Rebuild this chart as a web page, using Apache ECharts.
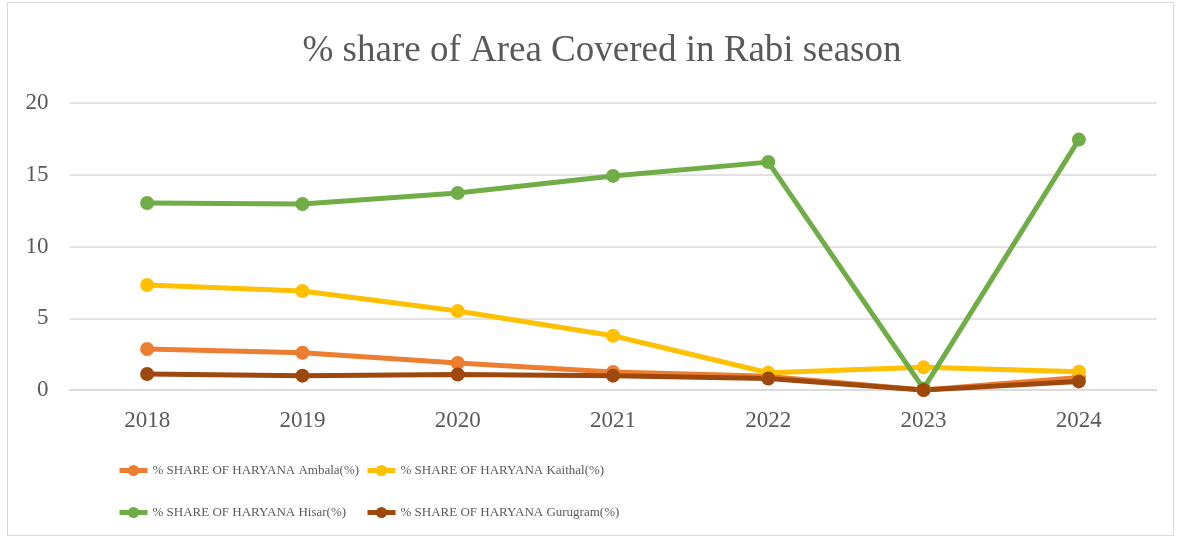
<!DOCTYPE html>
<html>
<head>
<meta charset="utf-8">
<script src="https://cdn.jsdelivr.net/npm/echarts@6/dist/echarts.min.js"></script>
<style>
html, body { margin: 0; padding: 0; background: #fff; }
#main { width: 1180px; height: 540px; }
.frame { position: absolute; left: 7px; top: 2px; width: 1165px; height: 532px; border: 1px solid #d9d9d9; pointer-events: none; }
</style>
</head>
<body>
<div id="main"></div>
<div class="frame"></div>
<script>
var years = ['2018', '2019', '2020', '2021', '2022', '2023', '2024'];
var ambala = [2.86, 2.6, 1.88, 1.25, 0.95, 0, 0.88];
var kaithal = [7.32, 6.9, 5.5, 3.78, 1.2, 1.58, 1.28];
var hisar = [13.03, 12.96, 13.73, 14.92, 15.88, 0.1, 17.45];
var gurugram = [1.12, 1.0, 1.08, 1.0, 0.8, 0, 0.6];

var names = ['% SHARE OF HARYANA Ambala(%)', '% SHARE OF HARYANA Kaithal(%)',
	'% SHARE OF HARYANA Hisar(%)', '% SHARE OF HARYANA Gurugram(%)'];
var colors = ['#ED7D31', '#FFC000', '#70AD47', '#9E480E'];
var values = [ambala, kaithal, hisar, gurugram];

var font = '"Liberation Serif", "Times New Roman", serif';

// one legend per item so the two columns line up like the original
function makeLegend(i, left, top) {
	return {
		data: [names[i]],
		left: left,
		top: top,
		itemWidth: 28,
		itemHeight: 14,
		itemGap: 0,
		lineStyle: { width: 5 },
		textStyle: { fontFamily: font, fontSize: 13, color: '#595959' }
	};
}

var series = [];
for (var i = 0; i < 4; i++) {
	series.push({
		name: names[i],
		type: 'line',
		data: values[i],
		symbol: 'circle',
		symbolSize: 14,
		lineStyle: { width: 5, color: colors[i] },
		itemStyle: { color: colors[i] }
	});
}

var myChart = echarts.init(document.getElementById('main'));
var option = {
	animation: false,
	title: {
		text: '% share of Area Covered in Rabi season',
		left: 597,
		textAlign: 'center',
		top: 28,
		textStyle: { fontFamily: font, fontSize: 37, fontWeight: 'normal', color: '#595959' }
	},
	legend: [
		makeLegend(0, 112, 459),
		makeLegend(1, 360, 459),
		makeLegend(2, 112, 501),
		makeLegend(3, 360, 501)
	],
	grid: { left: 69.5, right: 23.5, top: 103, bottom: 150, containLabel: false },
	xAxis: {
		type: 'category',
		data: years,
		boundaryGap: true,
		axisLine: { lineStyle: { color: '#d9d9d9', width: 1.5 } },
		axisTick: { show: false },
		axisLabel: { fontFamily: font, fontSize: 23, color: '#595959', margin: 19 }
	},
	yAxis: {
		type: 'value',
		min: 0,
		max: 20,
		interval: 5,
		axisLine: { show: false },
		axisTick: { show: false },
		splitLine: { lineStyle: { color: '#d9d9d9', width: 1.5 } },
		axisLabel: { fontFamily: font, fontSize: 23, color: '#595959', margin: 21 }
	},
	series: series
};
myChart.setOption(option);
</script>
</body>
</html>
